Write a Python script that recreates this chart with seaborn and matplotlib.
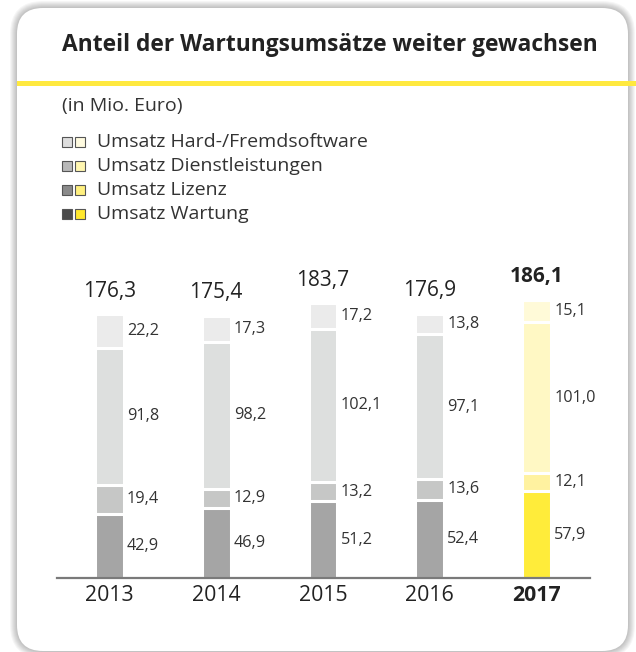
import pandas as pd
import matplotlib.pyplot as plt
import seaborn as sns
from matplotlib.patches import FancyBboxPatch, Rectangle

# values in Mio. Euro
years = ['2013', '2014', '2015', '2016', '2017']
wartung = [42.9, 46.9, 51.2, 52.4, 57.9]
lizenz = [19.4, 12.9, 13.2, 13.6, 12.1]
dienst = [91.8, 98.2, 102.1, 97.1, 101.0]
hard = [22.2, 17.3, 17.2, 13.8, 15.1]
totals = ['176,3', '175,4', '183,7', '176,9', '186,1']

legend_labels = ['Umsatz Hard-/Fremdsoftware', 'Umsatz Dienstleistungen',
                 'Umsatz Lizenz', 'Umsatz Wartung']

# bar colours per layer (grey years, yellow for 2017)
grey_layers = ['#a5a5a5', '#c6c7c6', '#dddfde', '#ebebeb']
yellow_layers = ['#ffec3a', '#fff2a0', '#fff8c4', '#fffad8']
# legend square colours
legend_grey = ['#dedede', '#b8b8b8', '#8a8a8a', '#4a4a4a']
legend_yellow = ['#fffbe0', '#fff6b0', '#fff07f', '#ffe82e']


def make_chart():
    sns.set_theme(style='white')
    plt.rcParams['font.family'] = ['Open Sans', 'DejaVu Sans']

    df = pd.DataFrame({'Jahr': years, 'Wartung': wartung, 'Lizenz': lizenz,
                       'Dienst': dienst, 'Hard': hard})
    layers = ['Wartung', 'Lizenz', 'Dienst', 'Hard']
    # cumulative heights, drawn from the top layer down
    cum = df[layers].cumsum(axis=1)

    fig = plt.figure(figsize=(6.36, 6.52), dpi=100)

    # background card in pixel coordinates
    bg = fig.add_axes([0, 0, 1, 1], zorder=0)
    bg.set_xlim(0, 636)
    bg.set_ylim(652, 0)
    bg.axis('off')
    # soft shadow
    for g in range(7, 0, -1):
        bg.add_patch(FancyBboxPatch((17 - g, 8 - g), 611 + 2 * g, 643 + 2 * g,
                                    boxstyle='round,pad=0,rounding_size=%d' % (26 + g),
                                    facecolor='#000000', alpha=0.035, edgecolor='none'))
    bg.add_patch(FancyBboxPatch((17, 8), 611, 643,
                                boxstyle='round,pad=0,rounding_size=26',
                                facecolor='white', edgecolor='none'))
    bg.add_patch(Rectangle((17, 81), 619, 5, facecolor='#ffe93f', edgecolor='none'))

    bg.text(330, 45, 'Anteil der Wartungsumsätze weiter gewachsen', fontsize=16.4,
            fontweight='bold', color='#222222', ha='center', va='center')
    bg.text(62, 106, '(in Mio. Euro)', fontsize=14, color='#333333', va='center')

    for i, lab in enumerate(legend_labels):
        y = 142 + i * 24
        bg.add_patch(Rectangle((62, y - 5), 10, 10, facecolor=legend_grey[i],
                               edgecolor='#555555', lw=0.8))
        bg.add_patch(Rectangle((75, y - 5), 10, 10, facecolor=legend_yellow[i],
                               edgecolor='#555555', lw=0.8))
        bg.text(97, y, lab, fontsize=14, color='#333333', va='center')

    # bar chart
    ax = fig.add_axes([57 / 636, 74 / 652, 533 / 636, 299 / 652], zorder=1)
    ax.patch.set_alpha(0)
    for k in reversed(range(len(layers))):
        pal = grey_layers[k:k + 1] * 4 + yellow_layers[k:k + 1]
        sns.barplot(x=df['Jahr'], y=cum[layers[k]], hue=df['Jahr'], palette=pal,
                    saturation=1, width=0.27, edgecolor='white', linewidth=2.2,
                    legend=False, ax=ax)

    ax.set_xlim(-0.49, 4.5)
    ax.set_ylim(0, 200)
    ax.set_xlabel('')
    ax.set_ylabel('')
    ax.set_yticks([])
    sns.despine(ax=ax, left=True)
    ax.spines['bottom'].set_color('#7a7a7a')
    ax.spines['bottom'].set_linewidth(1.6)
    ax.tick_params(axis='x', length=0, pad=5, labelsize=15.3, labelcolor='#222222')
    ax.get_xticklabels()[-1].set_fontweight('bold')

    # segment values
    for i in range(len(years)):
        base = 0
        for k, col in enumerate(layers):
            v = df[col][i]
            ax.text(i + 0.165, base + v / 2, f'{v:.1f}'.replace('.', ','),
                    fontsize=11.7, color='#333333', ha='left', va='center')
            base += v
        ax.text(i, base + 15.5, totals[i], fontsize=15, ha='center', va='center',
                color='#222222', fontweight='bold' if i == 4 else 'normal')

    plt.savefig('out.png', dpi=100)


if __name__ == '__main__':
    make_chart()
